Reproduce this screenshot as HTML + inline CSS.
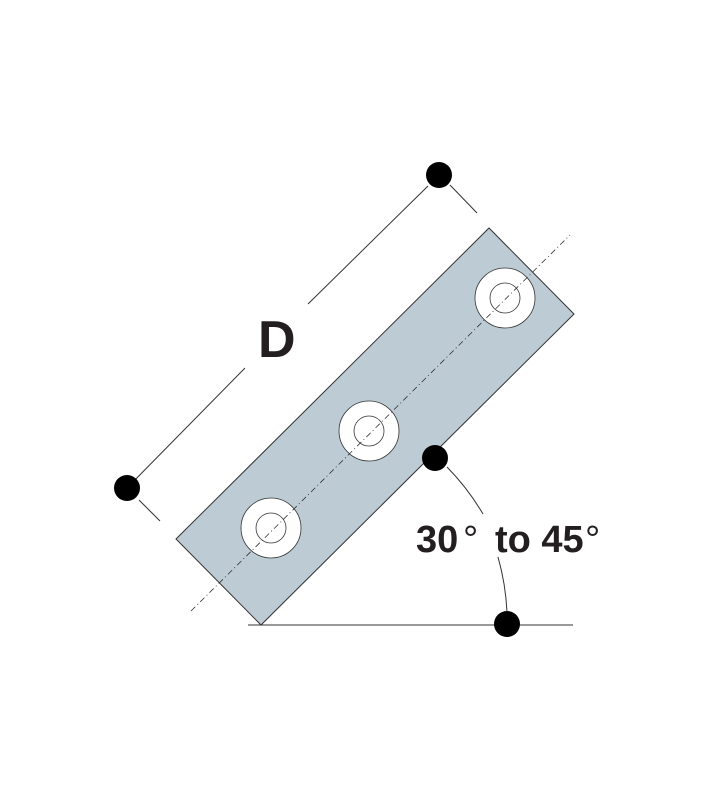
<!DOCTYPE html>
<html><head><meta charset="utf-8"><style>html,body{margin:0;padding:0;background:#fff}</style></head>
<body>
<svg width="727" height="800" viewBox="0 0 727 800" xmlns="http://www.w3.org/2000/svg">
<rect width="727" height="800" fill="#fff"/>
<polygon points="176,539 489,228 574,314 261,625" fill="#bccbd4" stroke="#333" stroke-width="1"/>
<g fill="#fff" stroke="#333" stroke-width="0.8">
<circle cx="505" cy="298" r="30"/><circle cx="505" cy="298" r="15"/>
<circle cx="369" cy="431" r="30"/><circle cx="369" cy="431" r="15"/>
<circle cx="271" cy="528" r="30"/><circle cx="271" cy="528" r="15"/>
</g>
<line x1="191" y1="611" x2="570" y2="235" stroke="#333" stroke-width="0.8" stroke-dasharray="6,3,1,3"/>
<g stroke="#333" stroke-width="1" fill="none">
<line x1="127" y1="488" x2="245" y2="368"/>
<line x1="308" y1="304" x2="428" y2="186"/>
<line x1="139" y1="500" x2="160" y2="521"/>
<line x1="450" y1="185" x2="477" y2="213"/>
<line x1="248" y1="625" x2="573" y2="625"/>
<path d="M447,467 A244,244 0 0 1 483,514"/>
<path d="M498,557 A244,244 0 0 1 507,612"/>
</g>
<g fill="#000">
<circle cx="439" cy="175" r="13"/><circle cx="127" cy="488" r="13"/>
<circle cx="435" cy="458" r="13"/><circle cx="507" cy="624" r="13"/>
</g>
<text x="258" y="357" font-family="Liberation Sans, sans-serif" font-weight="bold" font-size="52" fill="#231f20">D</text>
<g font-family="Liberation Sans, sans-serif" font-weight="bold" font-size="38" fill="#231f20">
<text x="416" y="552">30</text>
<text x="463" y="552" font-weight="normal">°</text>
<text x="495" y="552">to 45</text>
<text x="585" y="552" font-weight="normal">°</text>
</g>
</svg>
</body></html>
